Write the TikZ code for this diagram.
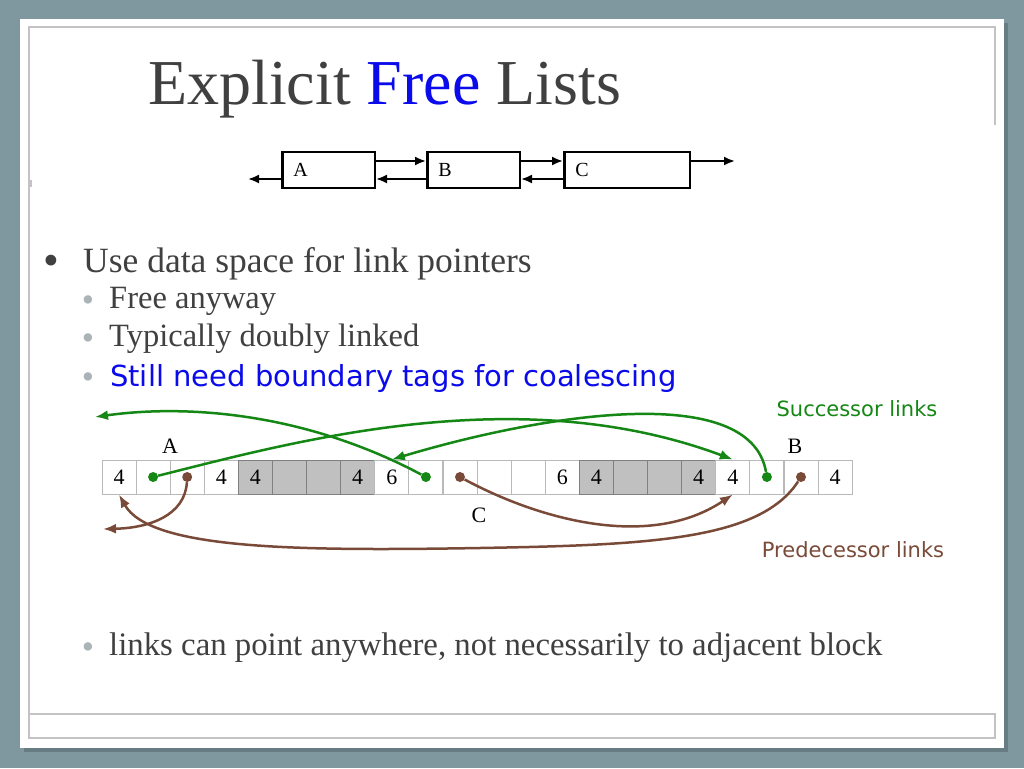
\documentclass[tikz,border=0pt]{standalone}
\usepackage{fontspec}
\setmainfont{Liberation Serif}
\newfontfamily\comicfont{DejaVu Sans}
\usetikzlibrary{arrows.meta,positioning}

\definecolor{slidebg}{RGB}{127,152,160}
\definecolor{textgrey}{RGB}{64,64,64}
\definecolor{bulletgrey}{RGB}{170,180,183}
\definecolor{titleblue}{RGB}{10,10,235}
\definecolor{succgreen}{RGB}{20,135,20}
\definecolor{predbrown}{RGB}{122,74,56}
\definecolor{framegrey}{RGB}{195,195,195}
\definecolor{blockgrey}{RGB}{192,192,192}

\begin{document}
\begin{tikzpicture}[
  x=1pt, y=-1pt,
  txt/.style={anchor=base west, inner sep=0pt, text=textgrey},
  bulletmark/.style={anchor=center, inner sep=0pt},
  listbox/.style={rectangle, draw, line width=2.5pt, minimum height=36pt,
                  inner xsep=11pt, text width=#1, align=left,
                  font=\fontsize{20}{22}\selectfont},
  listarrow/.style={-{Latex[length=11pt,width=9pt]}, line width=2pt},
  cell/.style={rectangle, draw=gray!55, line width=1pt, minimum size=34pt,
               inner sep=0pt, font=\fontsize{22}{24}\selectfont},
  usedcell/.style={cell, fill=blockgrey, draw=gray},
  gdot/.style={circle, fill=succgreen, inner sep=0pt, minimum size=10pt},
  bdot/.style={circle, fill=predbrown, inner sep=0pt, minimum size=10pt},
  succ/.style={-{Latex[length=13pt,width=10pt]}, line width=2.5pt, draw=succgreen},
  pred/.style={-{Latex[length=13pt,width=10pt]}, line width=2.5pt, draw=predbrown},
  lbl/.style={inner sep=0pt, font=\fontsize{22}{24}\selectfont},
  note/.style={inner sep=0pt, font=\comicfont\fontsize{21}{24}\selectfont}
]
\useasboundingbox (0,0) rectangle (1024,768);

% slide
\fill[slidebg] (0,0) rectangle (1024,768);
\fill[black, opacity=0.18] (24,23) rectangle (1008,752);
\fill[white] (20,19) rectangle (1004,748);
\draw[framegrey, line width=1.5pt] (995,125) -- (995,27) -- (29,27) -- (29,738)
  -- (995,738) -- (995,714) -- (29,714);
\fill[framegrey] (28,180) rectangle (32,187);

\node[txt, font=\fontsize{64}{68}\selectfont] (title) at (148,104)
  {Explicit \textcolor{titleblue}{Free} Lists};

% doubly linked list
\node[listbox=70.5pt] (la) at (328.5,170) {A};
\node[listbox=70.5pt, right=50pt of la] (lb) {B};
\node[listbox=103.5pt, right=42pt of lb] (lc) {C};
\coordinate[right=44pt of lc.east, yshift=9pt] (cnext);
\coordinate[left=33pt of la.west, yshift=-9pt] (aprev);

\draw[listarrow] ([yshift=9pt]la.east) -- ([yshift=9pt]lb.west);
\draw[listarrow] ([yshift=9pt]lb.east) -- ([yshift=9pt]lc.west);
\draw[listarrow] ([yshift=9pt]lc.east) -- (cnext);
\draw[listarrow] ([yshift=-9pt]lc.west) -- ([yshift=-9pt]lb.east);
\draw[listarrow] ([yshift=-9pt]lb.west) -- ([yshift=-9pt]la.east);
\draw[listarrow] ([yshift=-9pt]la.west) -- (aprev);

% bullets
\node[bulletmark, text=textgrey, font=\fontsize{45}{45}\selectfont] (b0) at (51,265) {•};
\node[txt, font=\fontsize{35.5}{38}\selectfont] (t0) at (83,272) {Use data space for link pointers};
\node[bulletmark, text=bulletgrey, font=\fontsize{35}{35}\selectfont] (b1) at (88,304) {•};
\node[txt, font=\fontsize{32.5}{34}\selectfont] (t1) at (109,308) {Free anyway};
\node[bulletmark, text=bulletgrey, font=\fontsize{35}{35}\selectfont] (b2) at (88,342) {•};
\node[txt, font=\fontsize{32.5}{34}\selectfont] (t2) at (109,346) {Typically doubly linked};
\node[bulletmark, text=bulletgrey, font=\fontsize{35}{35}\selectfont] (b3) at (88,381) {•};
\node[txt, text=titleblue, font=\comicfont\fontsize{29}{32}\selectfont] (t3) at (110,386)
  {Still need boundary tags for coalescing};
\node[bulletmark, text=bulletgrey, font=\fontsize{35}{35}\selectfont] (b4) at (88,651) {•};
\node[txt, font=\fontsize{32.8}{34}\selectfont] (t4) at (109,655)
  {links can point anywhere, not necessarily to adjacent block};

% heap blocks
\foreach \i/\t/\s in {0/4/cell, 1//cell, 2//cell, 3/4/cell, 4/4/usedcell, 5//usedcell,
    6//usedcell, 7/4/usedcell, 8/6/cell, 9//cell, 10//cell, 11//cell, 12//cell,
    13/6/cell, 14/4/usedcell, 15//usedcell, 16//usedcell, 17/4/usedcell, 18/4/cell,
    19//cell, 20//cell, 21/4/cell}
  \node[\s] (c\i) at ({119+34.1*\i},477) {\t};

\node[lbl] (labA) at (170,446) {A};
\node[lbl] (labB) at (795,446) {B};
\node[lbl] (labC) at (479,515) {C};

\node[gdot] (g1) at (c1) {};
\node[gdot] (g9) at (c9) {};
\node[gdot] (g19) at (c19) {};
\node[bdot] (p2) at (c2) {};
\node[bdot] (p10) at (c10) {};
\node[bdot] (p20) at (c20) {};
\coordinate (gout) at (95,417);
\coordinate (pout) at (103,529);

% successor links
\draw[succ] (g1) .. controls (300,440) and (520,380) .. (c18.north);
\draw[succ] (g19) .. controls (750,380) and (540,415) .. (c8.north);
\draw[succ] (g9) .. controls (300,410) and (180,405) .. (gout);

% predecessor links
\draw[pred] (p2) .. controls (185,515) and (150,528) .. (pout);
\draw[pred] (p10) .. controls (540,520) and (650,550) .. (c18.south);
\draw[pred] (p20) .. controls (760,540) and (650,545) .. (480,548)
  .. controls (300,551) and (150,550) .. (c0.south);

\node[note, text=succgreen] (succlbl) at (857,409) {Successor links};
\node[note, text=predbrown] (predlbl) at (853,550) {Predecessor links};

\end{tikzpicture}
\end{document}
